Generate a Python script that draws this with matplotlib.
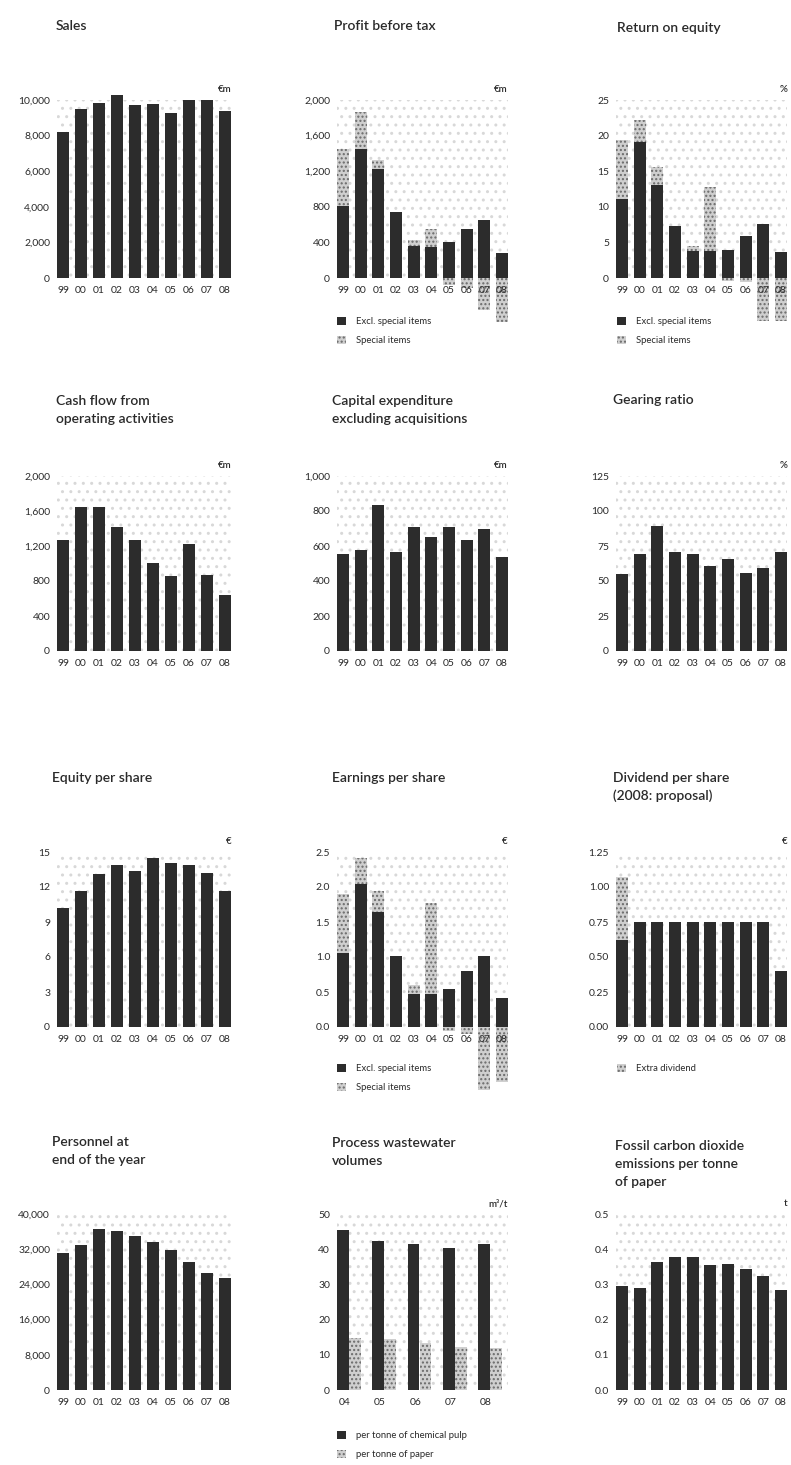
import numpy as np
import matplotlib
matplotlib.use("Agg")
import matplotlib.pyplot as plt
from matplotlib.patches import Patch

plt.rcParams["font.family"] = ["Lato", "DejaVu Sans"]

W, H = 791, 1465
DARK = "#2c2c2c"
LIGHT = "#cfcfcf"
HATCH_EDGE = "#6a6a6a"
TEXT = "#2a2a2a"

# ten-year key figures
years = ["99", "00", "01", "02", "03", "04", "05", "06", "07", "08"]
sales = [8200, 9500, 9850, 10300, 9700, 9750, 9250, 10000, 10000, 9400]
pbt_excl = [810, 1450, 1220, 745, 360, 345, 400, 550, 650, 285]
pbt_special = [640, 420, 110, 0, 70, 210, -80, -110, -360, -495]
roe_excl = [11.1, 19.1, 13.1, 7.3, 3.8, 3.8, 3.9, 5.9, 7.6, 3.7]
roe_special = [8.3, 3.1, 2.5, 0.0, 0.7, 9.0, -0.4, -0.6, -6.0, -6.0]
cash_flow = [1270, 1650, 1650, 1420, 1265, 1005, 855, 1220, 865, 635]
capex = [555, 575, 835, 565, 710, 650, 710, 635, 695, 535]
gearing = [55, 69, 89, 71, 69, 61, 66, 56, 59, 71]
equity_ps = [10.2, 11.7, 13.1, 13.9, 13.4, 14.5, 14.1, 13.9, 13.2, 11.7]
eps_excl = [1.06, 2.05, 1.64, 1.01, 0.47, 0.47, 0.54, 0.80, 1.01, 0.41]
eps_special = [0.84, 0.36, 0.31, 0.0, 0.13, 1.30, -0.05, -0.10, -0.90, -0.78]
dividend = [0.62, 0.75, 0.75, 0.75, 0.75, 0.75, 0.75, 0.75, 0.75, 0.40]
extra_dividend = [0.45, 0, 0, 0, 0, 0, 0, 0, 0, 0]
personnel = [31100, 33050, 36600, 36100, 34950, 33750, 31900, 29050, 26700, 25400]
ww_years = ["04", "05", "06", "07", "08"]
ww_pulp = [45.4, 42.4, 41.5, 40.3, 41.6]
ww_paper = [14.7, 14.4, 13.3, 12.3, 12.0]
co2 = [0.295, 0.29, 0.365, 0.378, 0.377, 0.355, 0.357, 0.343, 0.325, 0.283]

fig = plt.figure(figsize=(W / 100, H / 100), dpi=100)
fig.patch.set_facecolor("white")

COLS = [(57, 231), (337, 508), (616, 787)]
ROWS = [(278, 100), (651, 476), (1027, 852), (1390, 1214)]


def fig_text(x, y, s, **kw):
    kw.setdefault("color", TEXT)
    fig.text(x / W, 1 - y / H, s, **kw)


def panel(col, row, ticks, fmt, unit=None):
    x0, x1 = COLS[col]
    yb, yt = ROWS[row]
    ax = fig.add_axes([x0 / W, 1 - yb / H, (x1 - x0) / W, (yb - yt) / H])
    ax.set_ylim(0, ticks[-1])
    ax.set_yticks(ticks)
    ax.set_yticklabels([fmt(t) for t in ticks])
    for s in ax.spines.values():
        s.set_visible(False)
    ax.tick_params(length=0, labelsize=7.5, colors=TEXT)
    ax.tick_params(axis="y", pad=5)
    ax.tick_params(axis="x", pad=6)
    # light stipple behind the bars
    ax.add_patch(plt.Rectangle((0, 0), 1, 1, transform=ax.transAxes,
                               facecolor="white", hatch="..",
                               edgecolor="#d8d8d8", linewidth=0, zorder=0))
    if unit:
        ax.annotate(unit, xy=(1, 1), xycoords="axes fraction", xytext=(0, 4),
                    textcoords="offset points", ha="right", va="bottom",
                    fontsize=7, color=TEXT, fontweight="semibold")
    return ax


def year_bars(ax, values, labels=years):
    x = np.arange(len(values))
    ax.bar(x, values, width=0.68, color=DARK, zorder=2, clip_on=False)
    ax.set_xlim(-0.34, len(values) - 0.66)
    ax.set_xticks(x)
    ax.set_xticklabels(labels)
    return x


def special_bars(ax, x, base, special):
    base = np.asarray(base, float)
    special = np.asarray(special, float)
    bottom = np.where(special > 0, base, 0)
    ax.bar(x, special, bottom=bottom, width=0.68, color=LIGHT, hatch="....",
           edgecolor=HATCH_EDGE, linewidth=0, zorder=1, clip_on=False)


def legend(x, y, items):
    handles = [Patch(facecolor=fc, hatch=h, edgecolor=HATCH_EDGE, linewidth=0)
               for fc, h, _ in items]
    fig.legend(handles, [t for _, _, t in items], loc="upper left",
               bbox_to_anchor=(x / W, 1 - y / H), frameon=False, fontsize=6.8,
               handlelength=1.0, handleheight=1.0, handletextpad=1.0,
               labelspacing=1.0, borderpad=0, borderaxespad=0,
               labelcolor=TEXT)


def thousands(t):
    return f"{t:,.0f}"


TITLE = dict(fontsize=10, va="center", ha="left", linespacing=1.6,
             fontweight="semibold")

# row 1
fig_text(56, 26, "Sales", **TITLE)
ax = panel(0, 0, [0, 2000, 4000, 6000, 8000, 10000], thousands, "€m")
year_bars(ax, sales)

fig_text(334, 26, "Profit before tax", **TITLE)
ax = panel(1, 0, [0, 400, 800, 1200, 1600, 2000], thousands, "€m")
x = year_bars(ax, pbt_excl)
special_bars(ax, x, pbt_excl, pbt_special)
legend(337, 317, [(DARK, None, "Excl. special items"),
                  (LIGHT, "....", "Special items")])

fig_text(617, 28, "Return on equity", **TITLE)
ax = panel(2, 0, [0, 5, 10, 15, 20, 25], thousands, "%")
x = year_bars(ax, roe_excl)
special_bars(ax, x, roe_excl, roe_special)
legend(617, 317, [(DARK, None, "Excl. special items"),
                  (LIGHT, "....", "Special items")])

# row 2
fig_text(56, 410, "Cash flow from\noperating activities", **TITLE)
ax = panel(0, 1, [0, 400, 800, 1200, 1600, 2000], thousands, "€m")
year_bars(ax, cash_flow)

fig_text(332, 410, "Capital expenditure\nexcluding acquisitions", **TITLE)
ax = panel(1, 1, [0, 200, 400, 600, 800, 1000], thousands, "€m")
year_bars(ax, capex)

fig_text(613, 400, "Gearing ratio", **TITLE)
ax = panel(2, 1, [0, 25, 50, 75, 100, 125], thousands, "%")
year_bars(ax, gearing)

# row 3
fig_text(52, 778, "Equity per share", **TITLE)
ax = panel(0, 2, [0, 3, 6, 9, 12, 15], thousands, "€")
year_bars(ax, equity_ps)

fig_text(332, 778, "Earnings per share", **TITLE)
ax = panel(1, 2, [0, 0.5, 1.0, 1.5, 2.0, 2.5], lambda t: f"{t:.1f}", "€")
x = year_bars(ax, eps_excl)
special_bars(ax, x, eps_excl, eps_special)
legend(337, 1064, [(DARK, None, "Excl. special items"),
                   (LIGHT, "....", "Special items")])

fig_text(613, 787, "Dividend per share\n(2008: proposal)", **TITLE)
ax = panel(2, 2, [0, 0.25, 0.5, 0.75, 1.0, 1.25], lambda t: f"{t:.2f}", "€")
x = year_bars(ax, dividend)
special_bars(ax, x, dividend, extra_dividend)
legend(617, 1064, [(LIGHT, "....", "Extra dividend")])

# row 4
fig_text(52, 1151, "Personnel at\nend of the year", **TITLE)
ax = panel(0, 3, [0, 8000, 16000, 24000, 32000, 40000], thousands)
year_bars(ax, personnel)

fig_text(332, 1152, "Process wastewater\nvolumes", **TITLE)
ax = panel(1, 3, [0, 10, 20, 30, 40, 50], thousands, "m³/t")
xw = np.arange(len(ww_years))
ax.bar(xw, ww_pulp, width=0.33, color=DARK, zorder=2)
ax.bar(xw + 0.34, ww_paper, width=0.33, color=LIGHT, hatch="....",
       edgecolor=HATCH_EDGE, linewidth=0, zorder=2)
ax.set_xlim(-0.17, len(ww_years) - 0.66 + 0.17 + 0.17)
ax.set_xticks(xw + 0.05)
ax.set_xticklabels(ww_years)
legend(337, 1431, [(DARK, None, "per tonne of chemical pulp"),
                   (LIGHT, "....", "per tonne of paper")])

fig_text(615, 1164, "Fossil carbon dioxide\nemissions per tonne\nof paper", **TITLE)
ax = panel(2, 3, [0, 0.1, 0.2, 0.3, 0.4, 0.5], lambda t: f"{t:.1f}", "t")
year_bars(ax, co2)

fig.savefig("out.png", dpi=100, facecolor="white")
